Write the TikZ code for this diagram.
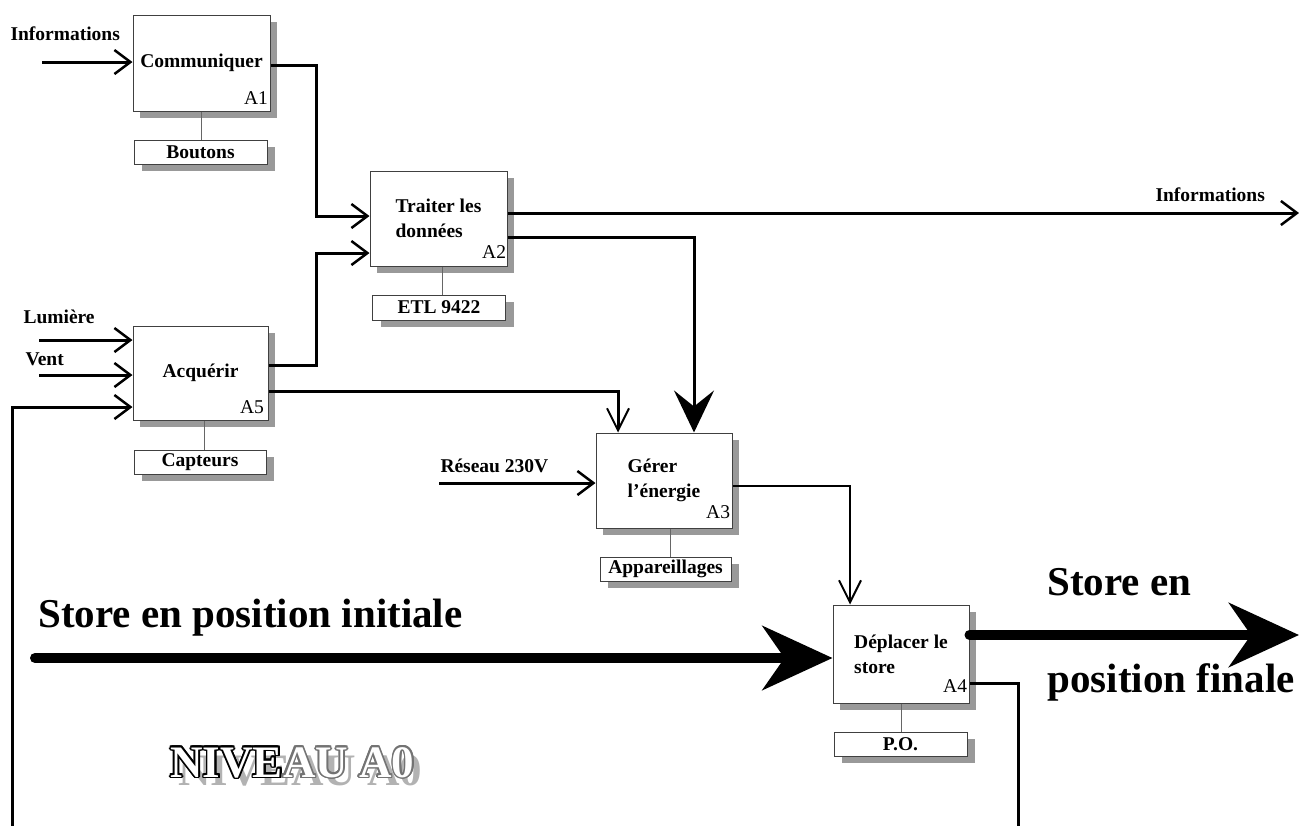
\documentclass[tikz,border=0pt]{standalone}
\usepackage{fontspec}
\setmainfont{Liberation Serif}
\usepackage{contour}
\usetikzlibrary{arrows.meta,shadows,calc}
\newcommand\txtbloc{\fontsize{19.5}{25}\selectfont}
\tikzset{every picture/.style={line width=1pt}}
\tikzset{
  fonction/.style={draw=black!75, fill=white, line width=1pt, minimum width=137pt, minimum height=96pt, inner sep=0, align=left, font=\txtbloc\bfseries, drop shadow={shadow xshift=7pt, shadow yshift=-7pt, fill=black!40, opacity=1}},
  support/.style={draw=black!75, fill=white, line width=1pt, minimum width=133pt, minimum height=24pt, inner sep=0, font=\txtbloc\bfseries, drop shadow={shadow xshift=8pt, shadow yshift=-7pt, fill=black!40, opacity=1}},
  repere/.style={anchor=base east, inner sep=0, font=\txtbloc},
  etiq/.style={anchor=base west, inner sep=0, font=\txtbloc\bfseries},
  grand/.style={anchor=base west, inner sep=0, font=\fontsize{41}{45}\selectfont\bfseries},
  lien/.style={draw=black!60, line width=1pt},
  flux/.style={line width=3pt, -{Straight Barb[length=16pt,width=24pt,line width=2.5pt]}},
  fluxfin/.style={line width=2.5pt, -{Straight Barb[length=22pt,width=22pt,line width=2pt]}},
  fluxfort/.style={line width=3pt, -{Stealth[length=42pt,width=40pt,inset=16pt]}},
  epais/.style={line width=10pt, line cap=round, -{Stealth[length=70pt,width=64pt,inset=22pt]}}
}
\begin{document}
\begin{tikzpicture}[x=1pt,y=1pt,yscale=-1,xscale=1]
\useasboundingbox (0,0) rectangle (1299,825);

% Fonctions
\node[fonction] (a1) at (201.5,63) {Communiquer};
\node[fonction, minimum height=95pt] (a2) at (438.5,218.5) {Traiter les\\donn\'ees};
\node[fonction, minimum width=135pt, minimum height=94pt] (a5) at (200.5,373) {Acqu\'erir};
\node[fonction, minimum width=136pt, minimum height=95pt] (a3) at (664,480.5) {G\'erer\\l'\'energie};
\node[fonction, minimum width=136pt, minimum height=98pt] (a4) at (901,654) {D\'eplacer le\\store};

\node[repere] at ($(a1.south east)+(-2,-7)$) {A1};
\node[repere] at ($(a2.south east)+(-1,-8)$) {A2};
\node[repere] at ($(a5.south east)+(-4,-7)$) {A5};
\node[repere] at ($(a3.south east)+(-2,-10)$) {A3};
\node[repere] at ($(a4.south east)+(-2,-11)$) {A4};

% Supports
\node[support] (m1) at (200.5,152) {Boutons};
\node[support, minimum height=25pt] (m2) at (439,307.5) {ETL 9422};
\node[support, minimum width=132pt] (m5) at (200,462) {Capteurs};
\node[support, minimum width=131pt] (m3) at (665.5,569) {Appareillages};
\node[support] (m4) at (900.5,744) {P.O.};

\draw[lien] (a1.south) -- (a1.south |- m1.north);
\draw[lien] ([xshift=4pt]a2.south) -- ([xshift=4pt]a2.south |- m2.north);
\draw[lien] ([xshift=4pt]a5.south) -- ([xshift=4pt]a5.south |- m5.north);
\draw[lien] ([xshift=6pt]a3.south) -- ([xshift=6pt]a3.south |- m3.north);
\draw[lien] (a4.south) -- (a4.south |- m4.north);

% Points de passage
\coordinate (infoE) at (42,62);
\coordinate (lum) at (39,340);
\coordinate (vent) at (39,375);
\coordinate (res) at (439,483);
\coordinate (infoS) at (1299,213);
\coordinate (storeI) at (35,658);
\coordinate (storeF) at (1299,635);
\coordinate (j12) at (316,65);
\coordinate (j12b) at (316,216);
\coordinate (j52) at (316,365);
\coordinate (j52b) at (316,253);
\coordinate (j53) at (618,391);
\coordinate (j23) at (694,237);
\coordinate (j34) at (850,486);
\coordinate (r1) at (1018,683);
\coordinate (r2) at (1018,832);
\coordinate (r3) at (12,832);
\coordinate (r4) at (12,407);

% Flux
\draw[flux] (infoE) -- (infoE -| a1.west);
\draw[flux] (lum) -- (lum -| a5.west);
\draw[flux] (vent) -- (vent -| a5.west);
\draw[flux] (res) -- (res -| a3.west);
\draw[flux] (a1.east |- j12) -- (j12) -- (j12b) -- (a2.west |- j12b);
\draw[flux] (a5.east |- j52) -- (j52) -- (j52b) -- (a2.west |- j52b);
\draw[fluxfin, line width=3pt] (a5.east |- j53) -- (j53) -- (j53 |- a3.north);
\draw[flux] (a2.east |- infoS) -- (infoS);
\draw[fluxfort] (a2.east |- j23) -- (j23) -- (j23 |- a3.north);
\draw[fluxfin] (a3.east |- j34) -- (j34) -- (j34 |- a4.north);
\draw[flux] (a4.east |- r1) -- (r1) -- (r2) -- (r3) -- (r4) -- (a5.west |- r4);
\draw[epais] (storeI) -- (storeI -| a4.west);
\draw[epais] (a4.east |- storeF) -- (storeF);

% Textes
\node[etiq] (t1) at (10,40) {Informations};
\node[etiq] (t2) at (23,323) {Lumi\`ere};
\node[etiq] (t3) at (25,365) {Vent};
\node[etiq] (t4) at (440,472) {R\'eseau 230V};
\node[etiq] (t5) at (1155,201) {Informations};
\node[grand] (t6) at (38,627) {Store en position initiale};
\node[grand] (t7) at (1047,595) {Store en};
\node[grand] (t8) at (1047,692) {position finale};

% Niveau
\contourlength{1.6pt}
\node[grand, font=\fontsize{45}{50}\selectfont\bfseries] (niveau) at (170,777) {\rlap{\hspace{8pt}\raisebox{-8pt}{\textcolor{black!30}{NIVEAU A0}}}\contour{black}{\textcolor{white}{NIVE}}\contour{black!55}{\textcolor{white}{AU A0}}};

\end{tikzpicture}
\end{document}
